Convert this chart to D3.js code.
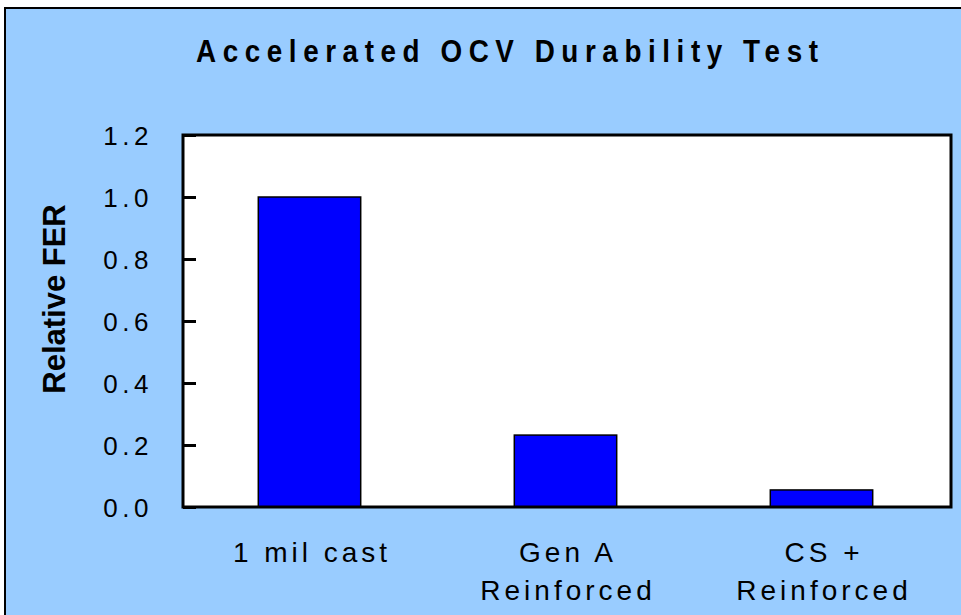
<!DOCTYPE html>
<html><head><meta charset="utf-8">
<script src="https://cdn.jsdelivr.net/npm/d3@7"></script>
<style>
html,body{margin:0;padding:0;background:#fff;}
svg{display:block;}
text{font-family:"Liberation Sans",Arial,sans-serif;fill:#000;}
</style></head>
<body>
<svg id="chart" width="961" height="615"></svg>
<script>
const categories = [["1 mil cast"], ["Gen A", "Reinforced"], ["CS +", "Reinforced"]];
const values = [1.0, 0.232, 0.055];
const yTicks = [0, 0.2, 0.4, 0.6, 0.8, 1.0, 1.2];
const title = "Accelerated OCV Durability Test";
const yLabel = "Relative FER";

const svg = d3.select("#chart");
const W = 961, H = 615;
svg.append("rect").attr("x", 5).attr("y", 8).attr("width", W + 10).attr("height", H + 10)
  .attr("fill", "#99CCFF").attr("stroke", "#000").attr("stroke-width", 2);

const m = {left: 183, right: 951, top: 135, bottom: 507};
const x = d3.scaleBand().domain(d3.range(categories.length)).range([m.left, m.right]).paddingInner(0.6).paddingOuter(0.3);
const y = d3.scaleLinear().domain([0, 1.2]).range([m.bottom, m.top]);

svg.append("rect").attr("x", m.left).attr("y", m.top).attr("width", m.right - m.left).attr("height", m.bottom - m.top)
  .attr("fill", "#fff");

svg.selectAll(".bar").data(values).enter().append("rect")
  .attr("x", (d, i) => x(i) - 1.5).attr("width", x.bandwidth())
  .attr("y", d => y(d)).attr("height", d => y(0) - y(d))
  .attr("fill", "#0000FF").attr("stroke", "#000").attr("stroke-width", 1.5);

svg.append("rect").attr("x", m.left).attr("y", m.top).attr("width", m.right - m.left).attr("height", m.bottom - m.top)
  .attr("fill", "none").attr("stroke", "#000").attr("stroke-width", 3);

const yAxis = d3.axisLeft(y).tickValues(yTicks).tickSize(-13).tickFormat(d3.format(".1f"));
const ga = svg.append("g").attr("transform", `translate(${m.left},0)`).call(yAxis);
ga.select(".domain").remove();
ga.selectAll(".tick line").attr("stroke", "#000").attr("stroke-width", 3);
ga.selectAll(".tick text").attr("font-size", 26).attr("letter-spacing", 4.5).attr("text-anchor", "end")
  .attr("dy", "0.36em").attr("x", -30);

const gx = svg.append("g");
categories.forEach((lines, i) => {
  const cx = x(i) + x.bandwidth() / 2 + 1;
  lines.forEach((t, j) => {
    gx.append("text").attr("x", cx).attr("y", 562 + j * 38).attr("text-anchor", "middle")
      .attr("font-size", 28).attr("letter-spacing", 4).text(t);
  });
});

svg.append("g").attr("transform", "translate(507,62) scale(0.87,1)")
  .append("text").attr("x", 0).attr("y", 0).attr("text-anchor", "middle")
  .attr("font-size", 32).attr("font-weight", "bold")
  .attr("textLength", 622 / 0.87).attr("lengthAdjust", "spacing").text(title);

svg.append("text").attr("transform", "translate(65,299) rotate(-90)").attr("text-anchor", "middle")
  .attr("font-size", 31).attr("font-weight", "bold").text(yLabel);
</script>
</body></html>
